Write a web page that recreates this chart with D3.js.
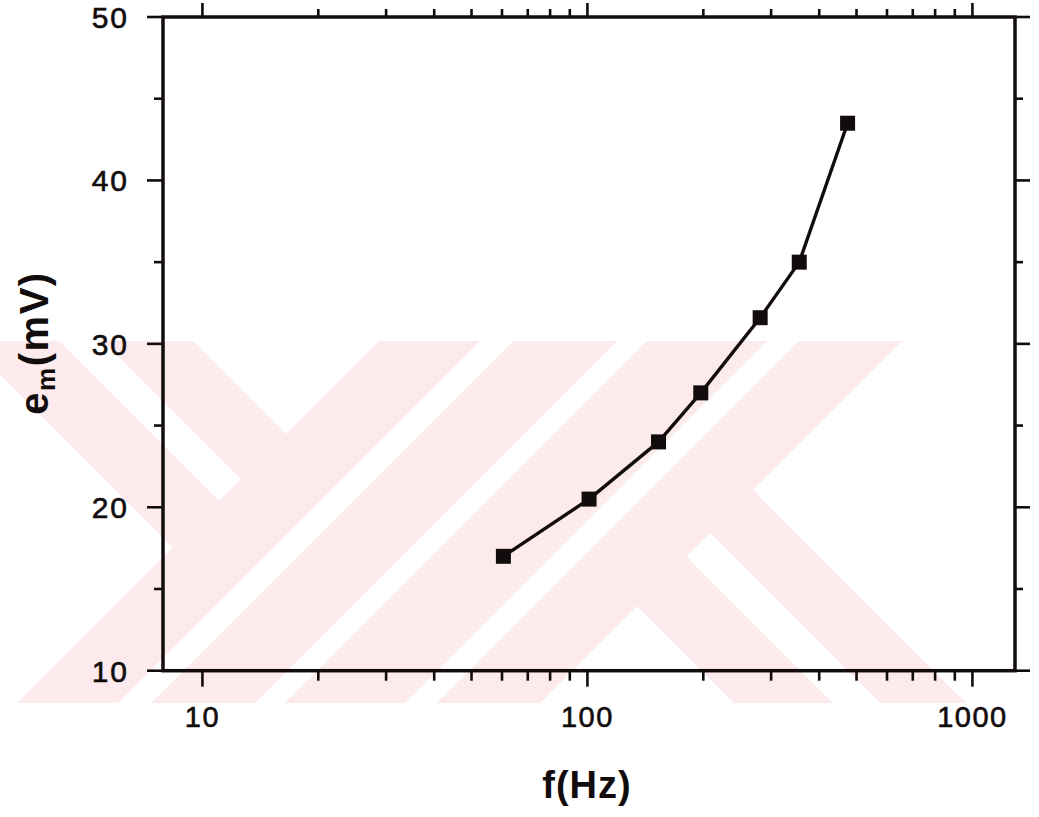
<!DOCTYPE html>
<html>
<head>
<meta charset="utf-8">
<script src="https://cdn.jsdelivr.net/npm/d3@7"></script>
<style>
  html, body { margin: 0; padding: 0; background: #fff; }
  svg { display: block; }
</style>
</head>
<body>
<svg id="chart" width="1039" height="817"></svg>
<script>
// Measured EMF versus excitation frequency
const freqHz = [60.5, 101, 153, 197, 281, 355, 474];
const emfMilliVolt = [17.0, 20.5, 24.0, 27.0, 31.6, 35.0, 43.5];

// Axis ticks
const xMajorTicks = [10, 100, 1000];
const xMinorTicks = [20, 30, 40, 50, 60, 70, 80, 90, 200, 300, 400, 500, 600, 700, 800, 900];
const yMajorTicks = [10, 20, 30, 40, 50];
const yMinorTicks = [15, 25, 35, 45];

const W = 1039, H = 817;
const plot = { left: 163, right: 1015, top: 17, bottom: 670.7 };
const ink = "#120c0c";
const font = "'Liberation Sans', Arial, Helvetica, sans-serif";

const svg = d3.select("#chart");

const x = d3.scaleLog().domain([7.9, 1290]).range([plot.left, plot.right]);
const y = d3.scaleLinear().domain([10, 50]).range([plot.bottom, plot.top]);

// ---- faint background emblem (diagonal bands) ----
const bg = svg.append("g");
bg.append("clipPath").attr("id", "emblemClip")
  .append("rect").attr("x", 0).attr("y", 341).attr("width", W).attr("height", 362);
const emblem = bg.append("g").attr("clip-path", "url(#emblemClip)").attr("fill", "#fdeaed");
// u = x + y (constant along "/"), v = x - y (constant along "\")
const toXY = (u, v) => [(u + v) / 2, (u - v) / 2];
const slashBands = [[720, 821], [854, 958], [988, 1108], [1140, 1243]];
const backBands = [
  { v: [-375, -282], u: [-3000, 720] },
  { v: [-238, -148], u: [-3000, 720] },
  { v: [31, 130], u: [1243, 4000] },
  { v: [177, 263], u: [1243, 4000] }
];
slashBands.forEach(([u1, u2]) => {
  const pts = [toXY(u1, -3000), toXY(u2, -3000), toXY(u2, 3000), toXY(u1, 3000)];
  emblem.append("polygon").attr("points", pts.map(p => p.join(",")).join(" "));
});
backBands.forEach(b => {
  const pts = [toXY(b.u[0], b.v[0]), toXY(b.u[1], b.v[0]), toXY(b.u[1], b.v[1]), toXY(b.u[0], b.v[1])];
  emblem.append("polygon").attr("points", pts.map(p => p.join(",")).join(" "));
});

// ---- frame ----
svg.append("rect")
  .attr("x", plot.left).attr("y", plot.top)
  .attr("width", plot.right - plot.left).attr("height", plot.bottom - plot.top)
  .attr("fill", "none").attr("stroke", ink).attr("stroke-width", 3.5);

// ---- ticks ----
const ticks = svg.append("g").attr("stroke", ink).attr("stroke-width", 2.6);
// bottom
ticks.selectAll(".xbM").data(xMajorTicks).join("line")
  .attr("x1", d => x(d)).attr("x2", d => x(d)).attr("y1", plot.bottom).attr("y2", plot.bottom + 16);
ticks.selectAll(".xbm").data(xMinorTicks).join("line")
  .attr("x1", d => x(d)).attr("x2", d => x(d)).attr("y1", plot.bottom).attr("y2", plot.bottom + 10);
// top
ticks.selectAll(".xtM").data(xMajorTicks).join("line")
  .attr("x1", d => x(d)).attr("x2", d => x(d)).attr("y1", plot.top).attr("y2", plot.top - 14);
ticks.selectAll(".xtm").data(xMinorTicks).join("line")
  .attr("x1", d => x(d)).attr("x2", d => x(d)).attr("y1", plot.top).attr("y2", plot.top - 8);
// left
ticks.selectAll(".ylM").data(yMajorTicks).join("line")
  .attr("x1", plot.left).attr("x2", plot.left - 16).attr("y1", d => y(d)).attr("y2", d => y(d));
ticks.selectAll(".ylm").data(yMinorTicks).join("line")
  .attr("x1", plot.left).attr("x2", plot.left - 9).attr("y1", d => y(d)).attr("y2", d => y(d));
// right
ticks.selectAll(".yrM").data(yMajorTicks).join("line")
  .attr("x1", plot.right).attr("x2", plot.right + 15).attr("y1", d => y(d)).attr("y2", d => y(d));
ticks.selectAll(".yrm").data(yMinorTicks).join("line")
  .attr("x1", plot.right).attr("x2", plot.right + 8).attr("y1", d => y(d)).attr("y2", d => y(d));

// ---- tick labels ----
svg.append("g").selectAll("text").data(xMajorTicks).join("text")
  .attr("x", d => x(d)).attr("y", 727)
  .attr("text-anchor", "middle")
  .attr("font-family", font).attr("font-size", 29).attr("letter-spacing", 1.5)
  .attr("fill", ink).attr("stroke", ink).attr("stroke-width", 0.6)
  .text(d3.format("d"));

svg.append("g").selectAll("text").data(yMajorTicks).join("text")
  .attr("x", 129).attr("y", d => y(d)).attr("dy", "0.36em")
  .attr("text-anchor", "end")
  .attr("font-family", font).attr("font-size", 30).attr("letter-spacing", 2)
  .attr("fill", ink).attr("stroke", ink).attr("stroke-width", 0.6)
  .text(d3.format("d"));

// ---- axis titles ----
svg.append("text")
  .attr("x", 587).attr("y", 798)
  .attr("text-anchor", "middle")
  .attr("font-family", font).attr("font-size", 38).attr("font-weight", "bold")
  .attr("letter-spacing", 1)
  .attr("fill", ink)
  .text("f(Hz)");

const yt = svg.append("text")
  .attr("transform", "translate(48,343) rotate(-90)")
  .attr("text-anchor", "middle")
  .attr("font-family", font).attr("font-size", 40).attr("font-weight", "bold")
  .attr("letter-spacing", 1.5)
  .attr("fill", ink);
yt.append("tspan").text("e");
yt.append("tspan").attr("font-size", 26).attr("dy", 7).text("m");
yt.append("tspan").attr("dy", -7).text("(mV)");

// ---- data ----
const pts = freqHz.map((f, i) => ({ f, e: emfMilliVolt[i] }));
const line = d3.line().x(d => x(d.f)).y(d => y(d.e));
svg.append("path").datum(pts)
  .attr("d", line)
  .attr("fill", "none").attr("stroke", ink).attr("stroke-width", 3.4)
  .attr("stroke-linejoin", "round");

const size = 15;
svg.append("g").selectAll("rect").data(pts).join("rect")
  .attr("x", d => x(d.f) - size / 2).attr("y", d => y(d.e) - size / 2)
  .attr("width", size).attr("height", size)
  .attr("fill", ink);
</script>
</body>
</html>
